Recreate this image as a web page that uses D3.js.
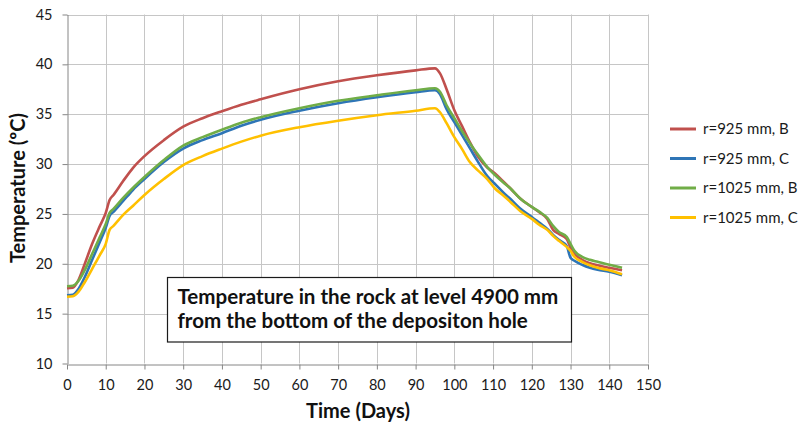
<!DOCTYPE html>
<html>
<head>
<meta charset="utf-8">
<script src="https://cdn.jsdelivr.net/npm/d3@7"></script>
<style>
  body { margin: 0; background: #fff; }
  svg { display: block; font-family: Lato, "Open Sans", sans-serif; }
</style>
</head>
<body>
<svg id="chart" width="803" height="428"></svg>
<script>
// Sample days shared by all series
const days = [0, 1.5, 3, 4.5, 6.5, 8.5, 10, 11, 12, 14.5, 17, 20, 25, 30, 35, 40, 45, 50, 60, 70, 80, 90, 95,
  96.3, 98, 100, 102, 104, 106, 108.5, 110.5, 112.5, 114.5, 117, 120, 122, 124, 125.5, 127, 129, 130, 131, 133,
  135, 137, 140, 143.3];

// Rock temperature (ºC) per series
const r925B = [17.55, 17.6, 18.4, 19.9, 22.0, 23.8, 25.1, 26.4, 26.9, 28.3, 29.6, 30.8, 32.4, 33.75, 34.6, 35.3, 35.95,
  36.5, 37.5, 38.3, 38.9, 39.4, 39.6, 39.1, 37.5, 35.4, 33.8, 32.2, 30.8, 29.65, 29.05, 28.3, 27.55, 26.55, 25.7,
  25.15, 24.5, 23.4, 23.0, 22.5, 21.6, 21.0, 20.4, 20.05, 19.85, 19.6, 19.35];
const r925C = [16.85, 16.9, 17.5, 18.6, 20.4, 22.2, 23.6, 24.8, 25.2, 26.3, 27.4, 28.5, 30.2, 31.55, 32.4, 33.1, 33.85,
  34.45, 35.35, 36.1, 36.7, 37.2, 37.4, 37.0, 35.5, 34.2, 32.9, 31.6, 30.3, 28.8, 28.0, 27.2, 26.5, 25.55, 24.7,
  24.1, 23.5, 22.9, 22.4, 21.8, 20.6, 20.3, 19.9, 19.6, 19.4, 19.2, 18.85];
const r1025B = [17.75, 17.8, 18.3, 19.3, 21.0, 22.7, 24.0, 25.1, 25.5, 26.6, 27.6, 28.7, 30.4, 31.85, 32.7, 33.45, 34.15,
  34.7, 35.6, 36.35, 36.9, 37.4, 37.6, 37.25, 35.9, 34.6, 33.3, 32.1, 31.0, 29.7, 28.9, 28.2, 27.55, 26.55, 25.7,
  25.2, 24.6, 23.8, 23.2, 22.7, 22.0, 21.3, 20.7, 20.4, 20.2, 19.9, 19.6];
const r1025C = [16.7, 16.75, 17.2, 18.1, 19.5, 20.9, 22.0, 23.4, 23.8, 24.9, 25.8, 26.9, 28.5, 29.9, 30.8, 31.55, 32.25,
  32.85, 33.7, 34.35, 34.9, 35.35, 35.6, 35.2, 34.1, 32.7, 31.5, 30.2, 29.4, 28.5, 27.55, 26.9, 26.2, 25.3, 24.5,
  23.9, 23.4, 22.8, 22.3, 21.7, 21.3, 20.7, 20.2, 19.85, 19.6, 19.35, 18.95];

const seriesNames = ["r=925 mm, B", "r=925 mm, C", "r=1025 mm, B", "r=1025 mm, C"];
const seriesValues = [r925B, r925C, r1025B, r1025C];
const seriesColors = ["#C0504D", "#2E75B6", "#70AD47", "#FFC000"];

const xTicks = d3.range(0, 151, 10);
const yTicks = d3.range(10, 46, 5);

const xTitle = "Time (Days)";
const yTitle = "Temperature (ºC)";
const noteLines = ["Temperature in the rock at level 4900 mm", "from the bottom of the depositon hole"];

const svg = d3.select("#chart");
const plot = { left: 67, right: 648, top: 14.5, bottom: 363.5 };

const x = d3.scaleLinear().domain([0, 150]).range([plot.left, plot.right]);
const y = d3.scaleLinear().domain([10, 45]).range([plot.bottom, plot.top]);

// Grid
const grid = svg.append("g").attr("stroke", "#c6c6c6").attr("stroke-width", 1);
grid.selectAll("line.h").data(yTicks.filter(d => d > 10)).join("line")
  .attr("x1", plot.left).attr("x2", plot.right)
  .attr("y1", d => Math.round(y(d)) + 0.5).attr("y2", d => Math.round(y(d)) + 0.5);
grid.selectAll("line.v").data(xTicks.filter(d => d > 0)).join("line")
  .attr("y1", plot.top).attr("y2", plot.bottom)
  .attr("x1", d => Math.round(x(d)) + 0.5).attr("x2", d => Math.round(x(d)) + 0.5);

// Axes
const xAxis = svg.append("g")
  .attr("transform", `translate(0,${Math.round(plot.bottom) + 0.5})`)
  .call(d3.axisBottom(x).tickValues(xTicks).tickSize(5).tickPadding(10).tickSizeOuter(0));
const yAxis = svg.append("g")
  .attr("transform", `translate(${Math.round(plot.left) + 0.5},0)`)
  .call(d3.axisLeft(y).tickValues(yTicks).tickSize(5).tickPadding(10).tickSizeOuter(0));
[xAxis, yAxis].forEach(a => {
  a.select(".domain").attr("stroke", "#868686");
  a.selectAll(".tick line").attr("stroke", "#868686");
  a.selectAll(".tick text").attr("fill", "#1a1a1a").style("font-size", "14.5px").style("font-family", "Lato, sans-serif");
});

// Series lines
const line = d3.line().x((d, i) => x(days[i])).y(d => y(d)).curve(d3.curveMonotoneX);
svg.append("g").selectAll("path").data(seriesValues).join("path")
  .attr("d", line)
  .attr("fill", "none")
  .attr("stroke", (d, i) => seriesColors[i])
  .attr("stroke-width", 2.6)
  .attr("stroke-linejoin", "round");

// Annotation box
const box = { x0: 167, y0: 277, x1: 571, y1: 341.5 };
svg.append("rect")
  .attr("x", box.x0 + 0.5).attr("y", box.y0 + 0.5)
  .attr("width", box.x1 - box.x0).attr("height", box.y1 - box.y0)
  .attr("fill", "#fff").attr("stroke", "#1a1a1a").attr("stroke-width", 1.2);
const note = svg.append("g").attr("font-weight", "bold").attr("fill", "#111");
note.selectAll("text").data(noteLines).join("text")
  .attr("x", 177.5)
  .attr("y", (d, i) => 304 + i * 23.5)
  .style("font-size", "18px")
  .text(d => d);
// fit first line to the box width
const firstLen = note.select("text").node().getComputedTextLength();
const noteSize = 18 * 381 / firstLen;
note.selectAll("text").style("font-size", noteSize + "px");

// Axis titles
svg.append("text")
  .attr("x", 358).attr("y", 418)
  .attr("text-anchor", "middle")
  .attr("font-weight", "bold").attr("fill", "#111")
  .style("font-size", "20px")
  .text(xTitle);
svg.append("text")
  .attr("transform", "translate(25,188) rotate(-90)")
  .attr("text-anchor", "middle")
  .attr("font-weight", "bold").attr("fill", "#111")
  .style("font-size", "20px")
  .text(yTitle);

// Legend
const legend = svg.append("g");
const rows = legend.selectAll("g").data(seriesNames).join("g")
  .attr("transform", (d, i) => `translate(670,${129 + i * 29.5})`);
rows.append("line")
  .attr("x1", 0).attr("x2", 26)
  .attr("stroke", (d, i) => seriesColors[i]).attr("stroke-width", 3);
rows.append("text")
  .attr("x", 33).attr("dy", "0.35em")
  .attr("fill", "#1a1a1a")
  .style("font-size", "15px")
  .text(d => d);
</script>
</body>
</html>
